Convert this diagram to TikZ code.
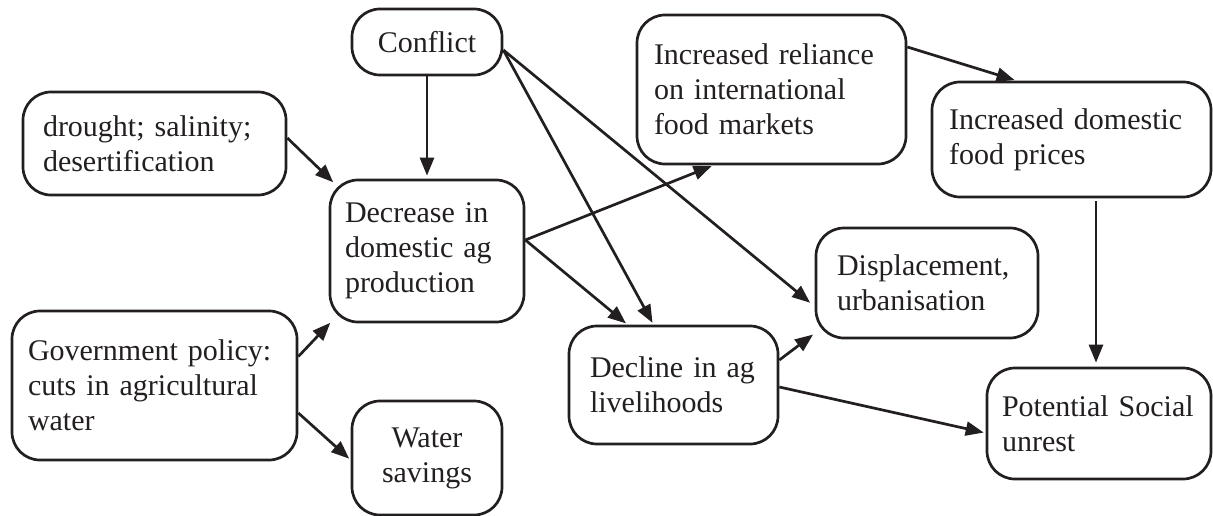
\documentclass[tikz,border=0pt]{standalone}
\usepackage{fontspec}
\setmainfont{Liberation Serif}
\usetikzlibrary{arrows.meta}
\definecolor{ink}{HTML}{231F20}
\begin{document}
\begin{tikzpicture}[x=1pt,y=-1pt,
  card/.style={draw=ink, line width=2.7pt, rounded corners=28pt, text=ink,
    font=\fontsize{30pt}{35pt}\selectfont, align=left, inner ysep=0pt},
  arr/.style={draw=ink, line width=2.7pt,
    -{Triangle[length=18pt,width=14pt]}, shorten >=2pt}]
\useasboundingbox (0,0) rectangle (1213,516);

% boxes
\node[card, align=center, text width=130pt, inner xsep=10pt, minimum height=66pt]
  (conflict) at (427,42) {Conflict};
\node[card, text width=223pt, inner xsep=20pt, minimum height=103pt]
  (drought) at (154.5,143.5) {drought; salinity;\\desertification};
\node[card, text width=164pt, inner xsep=15pt, minimum height=142pt]
  (decrease) at (427,251) {Decrease in\\domestic ag\\production};
\node[card, text width=253pt, inner xsep=16pt, minimum height=149pt]
  (gov) at (154.5,385.5) {Government policy:\\cuts in agricultural\\water};
\node[card, align=center, text width=130pt, inner xsep=10pt, minimum height=114pt]
  (water) at (427,458) {Water\\savings};
\node[card, text width=235pt, inner xsep=17pt, minimum height=149pt]
  (reliance) at (771.5,89.5) {Increased reliance\\on international\\food markets};
\node[card, text width=245pt, inner xsep=17pt, minimum height=115pt]
  (domestic) at (1071.5,139.5) {Increased domestic\\food prices};
\node[card, text width=180pt, inner xsep=21pt, minimum height=110pt]
  (displace) at (927,283) {Displacement,\\urbanisation};
\node[card, text width=167pt, inner xsep=21pt, minimum height=118pt]
  (decline) at (673.5,385) {Decline in ag\\livelihoods};
\node[card, text width=194pt, inner xsep=15pt, minimum height=111pt]
  (unrest) at (1099,423.5) {Potential Social\\unrest};

% connectors
\draw[arr, shorten >=3pt] (conflict.south) -- (decrease.north);
\draw[arr] ([yshift=5.5pt]drought.east) -- ([xshift=6pt,yshift=-5pt]decrease.north west);
\draw[arr] ([yshift=-8pt]conflict.east) -- ([xshift=-20pt]decline.north);
\draw[arr] ([yshift=-8pt]conflict.east) -- ([xshift=-3pt,yshift=-21pt]displace.west);
\draw[arr] ([yshift=11pt]decrease.east) -- ([xshift=-58pt]reliance.south);
\draw[arr] ([yshift=11pt]decrease.east) -- ([xshift=-46pt]decline.north);
\draw[arr] ([yshift=29pt]gov.east) -- ([xshift=3pt,yshift=2pt]decrease.south west);
\draw[arr] ([yshift=-27.5pt]gov.east) -- ([yshift=-2pt]water.west);
\draw[arr] ([yshift=25pt]decline.east) -- ([yshift=6pt]displace.south west);
\draw[arr] ([yshift=-2pt]decline.east) -- ([yshift=-9.5pt]unrest.west);
\draw[arr] ([yshift=42.5pt]reliance.east) -- ([xshift=-55pt]domestic.north);
\draw[arr, shorten <=3pt, shorten >=4pt] ([xshift=24.5pt]domestic.south) -- ([xshift=-3pt]unrest.north);
\end{tikzpicture}
\end{document}
